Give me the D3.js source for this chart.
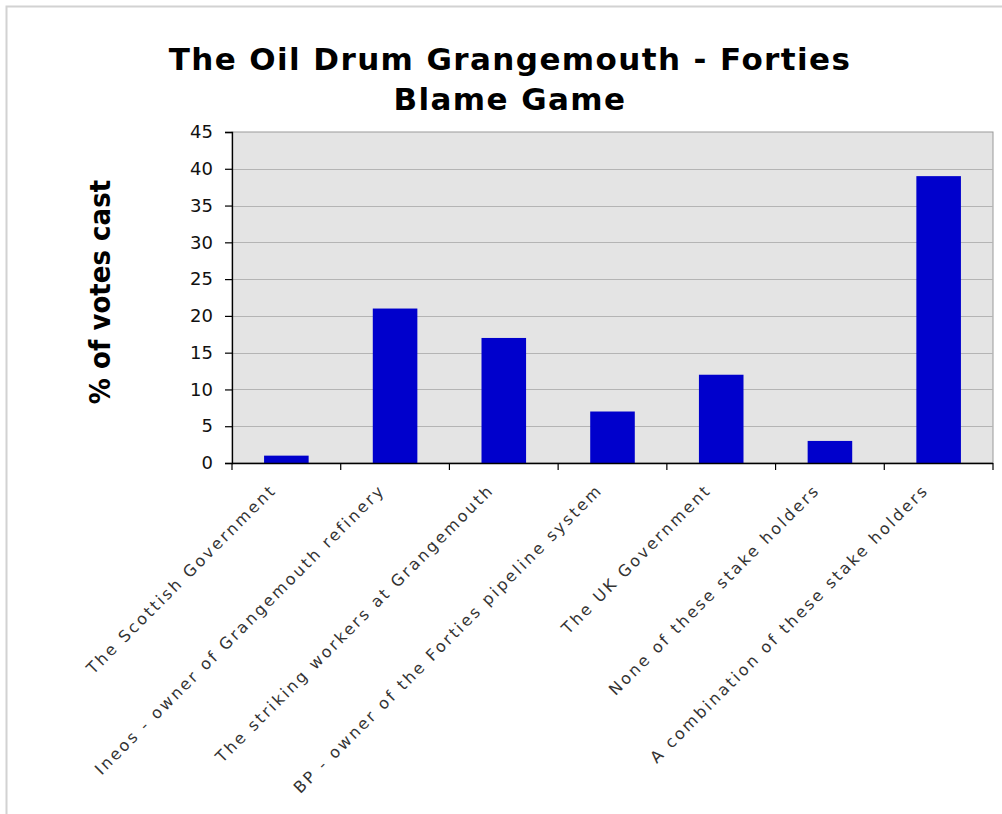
<!DOCTYPE html>
<html>
<head>
<meta charset="utf-8">
<script src="https://cdn.jsdelivr.net/npm/d3@7"></script>
<style>
  html, body { margin: 0; padding: 0; background: #fff; }
  svg { display: block; }
</style>
</head>
<body>
<script>
const categories = [
  "The Scottish Government",
  "Ineos - owner of Grangemouth refinery",
  "The striking workers at Grangemouth",
  "BP - owner of the Forties pipeline system",
  "The UK Government",
  "None of these stake holders",
  "A combination of these stake holders"
];
const values = [1, 21, 17, 7, 12, 3, 39];
const yTicks = [0, 5, 10, 15, 20, 25, 30, 35, 40, 45];
const titleLines = ["The Oil Drum Grangemouth - Forties", "Blame Game"];
const yLabel = "% of votes cast";

const W = 1002, H = 814;
const plot = { left: 232, right: 993, top: 132, bottom: 463 };

const svg = d3.select("body").append("svg").attr("width", W).attr("height", H);

// outer frame (top and left edge)
svg.append("path")
  .attr("d", `M6.5,${H} L6.5,6.5 L${W},6.5`)
  .attr("fill", "none").attr("stroke", "#d2d2d2").attr("stroke-width", 2);

const x = d3.scaleBand().domain(categories).range([plot.left, plot.right]).paddingInner(0.59).paddingOuter(0.295);
const xb = d3.scaleBand().domain(categories).range([plot.left, plot.right]);
const y = d3.scaleLinear().domain([0, 45]).range([plot.bottom, plot.top]);

// plot background
svg.append("rect")
  .attr("x", plot.left).attr("y", plot.top)
  .attr("width", plot.right - plot.left).attr("height", plot.bottom - plot.top)
  .attr("fill", "#e4e4e4").attr("stroke", "#9a9a9a").attr("stroke-width", 1);

// gridlines
svg.append("g").selectAll("line").data(yTicks.filter(d => d > 0 && d < 45)).join("line")
  .attr("x1", plot.left).attr("x2", plot.right)
  .attr("y1", d => Math.round(y(d)) + 0.5).attr("y2", d => Math.round(y(d)) + 0.5)
  .attr("stroke", "#b4b4b4").attr("stroke-width", 1.2);

// bars
svg.append("g").selectAll("rect").data(values).join("rect")
  .attr("x", (d, i) => x(categories[i]))
  .attr("width", x.bandwidth())
  .attr("y", d => y(d))
  .attr("height", d => y(0) - y(d))
  .attr("fill", "#0000cc");

// y axis
const yAxis = svg.append("g").attr("transform", `translate(${plot.left},0)`)
  .call(d3.axisLeft(y).tickValues(yTicks).tickSize(7).tickPadding(12).tickFormat(d3.format("d")));
yAxis.select(".domain").attr("stroke", "#000").attr("stroke-width", 1.3);
yAxis.selectAll(".tick line").attr("stroke", "#000").attr("stroke-width", 1.2);
yAxis.selectAll("text")
  .attr("font-family", "Verdana, 'DejaVu Sans', sans-serif")
  .attr("font-size", 18).attr("fill", "#111");

// x axis
const boundaries = d3.range(categories.length + 1).map(i => plot.left + i * xb.bandwidth());
const xAxisG = svg.append("g");
xAxisG.append("line")
  .attr("x1", plot.left).attr("x2", plot.right)
  .attr("y1", plot.bottom + 0.5).attr("y2", plot.bottom + 0.5)
  .attr("stroke", "#000").attr("stroke-width", 1.6);
xAxisG.selectAll("line.tk").data(boundaries).join("line").attr("class", "tk")
  .attr("x1", d => d).attr("x2", d => d)
  .attr("y1", plot.bottom).attr("y2", plot.bottom + 7)
  .attr("stroke", "#000").attr("stroke-width", 1.2);

svg.append("g").selectAll("text").data(categories).join("text")
  .attr("transform", d => `translate(${xb(d) + xb.bandwidth() / 2 - 9},${plot.bottom + 28}) rotate(-45)`)
  .attr("text-anchor", "end")
  .attr("font-family", "Verdana, 'DejaVu Sans', sans-serif")
  .attr("font-size", 16)
  .attr("letter-spacing", 2.45)
  .attr("fill", "#333")
  .text(d => d);

// title
svg.append("g").selectAll("text").data(titleLines).join("text")
  .attr("x", 510).attr("y", (d, i) => 70 + i * 40)
  .attr("text-anchor", "middle")
  .attr("font-family", "'DejaVu Sans', sans-serif")
  .attr("font-weight", "bold")
  .attr("font-size", 31)
  .attr("letter-spacing", 1.4)
  .attr("fill", "#000")
  .text(d => d);

// y axis label
svg.append("text")
  .attr("transform", `translate(110,292) rotate(-90)`)
  .attr("text-anchor", "middle")
  .attr("font-family", "'DejaVu Sans Condensed', 'DejaVu Sans', sans-serif")
  .attr("font-weight", "bold")
  .attr("font-size", 29)
  .attr("fill", "#000")
  .text(yLabel);
</script>
</body>
</html>
